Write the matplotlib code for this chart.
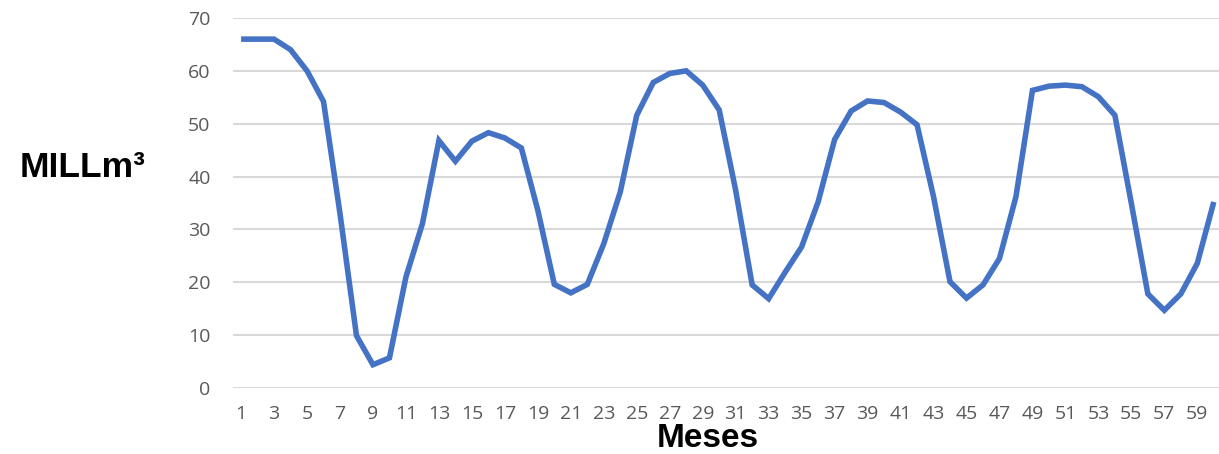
import numpy as np
import matplotlib
matplotlib.use("Agg")
from matplotlib import pyplot as plt

# monthly volume
meses = list(range(1, 61))
volumen = [66.0, 66.0, 66.0, 64.0, 60.0, 54.2, 33.0, 9.9, 4.4, 5.7,
           21.0, 31.1, 46.8, 42.9, 46.7, 48.3, 47.3, 45.4, 33.6, 19.6,
           18.0, 19.6, 27.3, 37.1, 51.6, 57.8, 59.5, 60.0, 57.3, 52.6,
           37.4, 19.5, 16.9, 21.9, 26.7, 35.2, 47.0, 52.4, 54.3, 54.0,
           52.2, 49.8, 36.2, 20.1, 17.0, 19.5, 24.5, 36.2, 56.3, 57.1,
           57.3, 57.0, 55.1, 51.6, 34.9, 17.8, 14.7, 17.8, 23.6, 35.2]
x_ticks = list(range(1, 61, 2))
y_ticks = list(range(0, 71, 10))

fig = plt.figure(figsize=(12.19, 4.54), dpi=100)
ax = fig.add_axes([0.191, 0.1454, 0.8115, 0.815])

ax.plot(meses, volumen, color="#4472C4", linewidth=4, solid_joinstyle="miter",
        solid_capstyle="butt", zorder=3)

ax.set_xlim(0.5, 60.5)
ax.set_ylim(0, 70)
ax.set_xticks(x_ticks)
ax.set_yticks(y_ticks)
ax.grid(axis="y", color="#d9d9d9", linewidth=1.5)
ax.set_axisbelow(True)
for s in ax.spines.values():
    s.set_visible(False)
ax.tick_params(length=0, labelcolor="#595959", labelsize=14)
ax.tick_params(axis="x", pad=12)
ax.tick_params(axis="y", pad=16)
for lab in ax.get_xticklabels() + ax.get_yticklabels():
    lab.set_family("Open Sans")

fig.text(0.0164, 0.611, "MILLm³", fontsize=25.5, fontweight="bold",
         family="Liberation Sans", va="baseline", ha="left")
# the reference crops this at the bottom edge; keep it just inside
fig.text(708 / 1219, 0.0, "Meses", fontsize=24, fontweight="bold",
         family="Liberation Sans", va="bottom", ha="center", zorder=5)

fig.savefig("out.png", dpi=100)
